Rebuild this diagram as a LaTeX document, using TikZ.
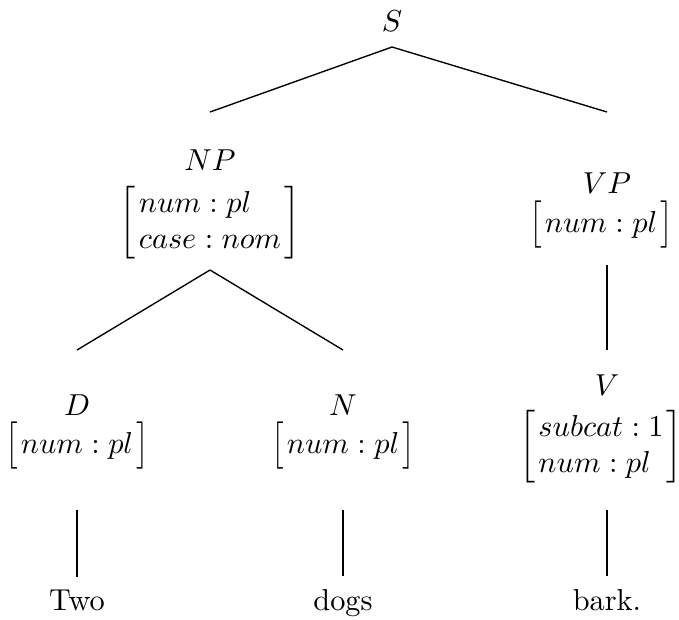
\documentclass[tikz,border=0pt]{standalone}
\usepackage{amsmath}
\usepackage{graphicx}
\usetikzlibrary{calc}
\newcommand{\lbrk}{\vcenter{\hbox{\scalebox{1}[1.3]{$\big[$}}}}
\newcommand{\rbrk}{\vcenter{\hbox{\scalebox{1}[1.3]{$\big]$}}}}
\newcommand{\onefeat}[1]{$\lbrk\kern1pt #1\kern1pt\rbrk$}
\newcommand{\twofeat}[2]{$\left[\begin{array}{@{\kern1pt}l@{\kern1pt}} #1\\ #2\end{array}\right]$}
\begin{document}
\begin{tikzpicture}[x=0.33pt,y=-0.33pt,
  lab/.style={inner sep=0pt},
  word/.style={inner sep=0pt,anchor=base},
  edge/.style={line width=0.45pt}]
\useasboundingbox (0,0) rectangle (679,619);
% labels
\node[lab] (S)  at (392,21)  {$S$};
\node[lab] (NP) at (210,160) {$NP$};
\node[lab] (NPf) at (210,223) {\twofeat{num : pl}{case : nom}};
\node[lab] (VP) at (607,183) {$VP$};
\node[lab] (VPf) at (601,225) {\onefeat{num : pl}};
\node[lab] (D) at (77,405) {$D$};
\node[lab] (Df) at (77,446) {\onefeat{num : pl}};
\node[lab] (N) at (343,405) {$N$};
\node[lab] (Nf) at (343,446) {\onefeat{num : pl}};
\node[lab] (V) at (607,385) {$V$};
\node[lab] (Vf) at (601,447) {\twofeat{subcat : 1}{num : pl}};
\node[word] (Two)  at (77,610)  {Two};
\node[word] (dogs) at (343,610) {dogs};
\node[word] (bark) at (607,610) {bark.};
% edges
\draw[edge] ($(S)+(0,26)$) -- ($(NP)+(0,-48)$);
\draw[edge] ($(S)+(0,26)$) -- ($(VP)+(0,-71)$);
\draw[edge] ($(NPf)+(0,47)$) -- ($(D)+(0,-55)$);
\draw[edge] ($(NPf)+(0,47)$) -- ($(N)+(0,-55)$);
\draw[edge] ($(VP)+(0,82)$) -- ($(V)+(0,-35)$);
\draw[edge] ($(Df)+(0,64)$) -- ($(Two.north)+(0,-12)$);
\draw[edge] ($(Nf)+(0,64)$) -- ($(dogs.north)+(0,-12)$);
\draw[edge] ($(V)+(0,125)$) -- ($(bark.north)+(0,-12)$);
\end{tikzpicture}
\end{document}
